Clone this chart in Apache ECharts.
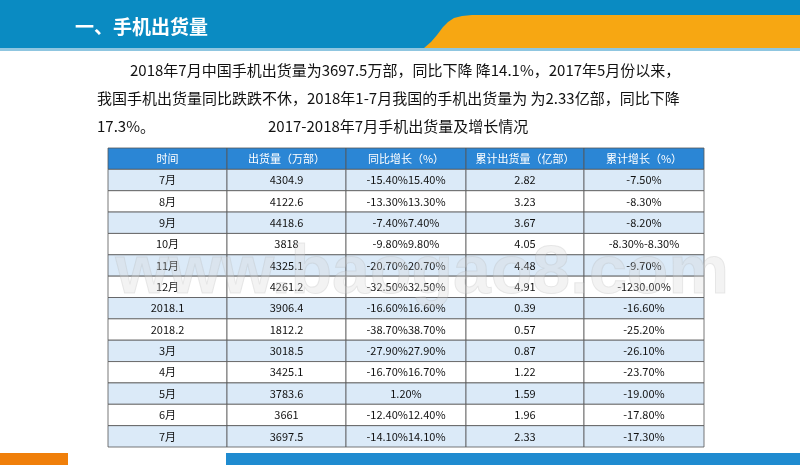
<!DOCTYPE html>
<html><head><meta charset="utf-8">
<script src="https://cdn.jsdelivr.net/npm/echarts@6/dist/echarts.min.js"></script>
<style>html,body{margin:0;padding:0;background:#fff}#c{width:800px;height:474px}</style>
</head><body><div id="c"></div>
<script>
const headers = ['时间','出货量（万部）','同比增长（%）','累计出货量（亿部）','累计增长（%）'];
const periods = ['7月','8月','9月','10月','11月','12月','2018.1','2018.2','3月','4月','5月','6月','7月'];
const shipments = ['4304.9','4122.6','4418.6','3818','4325.1','4261.2','3906.4','1812.2','3018.5','3425.1','3783.6','3661','3697.5'];
const yoyGrowth = ['-15.40%15.40%','-13.30%13.30%','-7.40%7.40%','-9.80%9.80%','-20.70%20.70%','-32.50%32.50%','-16.60%16.60%','-38.70%38.70%','-27.90%27.90%','-16.70%16.70%','1.20%','-12.40%12.40%','-14.10%14.10%'];
const cumShipments = ['2.82','3.23','3.67','4.05','4.48','4.91','0.39','0.57','0.87','1.22','1.59','1.96','2.33'];
const cumGrowth = ['-7.50%','-8.30%','-8.20%','-8.30%-8.30%','-9.70%','-1230.00%','-16.60%','-25.20%','-26.10%','-23.70%','-19.00%','-17.80%','-17.30%'];

const colEdges = [0,119,238,358,476,596]; // layout
const cols = [periods, shipments, yoyGrowth, cumShipments, cumGrowth];
const nRows = periods.length + 1;
const cells = [];
for (let r = 0; r < nRows; r++) for (let c = 0; c < 5; c++) {
  cells.push([colEdges[c], colEdges[c+1], r, r === 0 ? headers[c] : cols[c][r-1]]);
}
const wave = [[800,15],[472,15],[462,16],[454,18],[448,22],[443,27],[437,35],[431,42],[424,48],[800,48]];
const chart = echarts.init(document.getElementById('c'));
chart.setOption({
  animation:false,
  grid:{left:108,top:148,width:596,height:299},
  xAxis:{type:'value',min:0,max:596,show:false},
  yAxis:{type:'value',min:0,max:nRows,inverse:true,show:false},
  graphic:[
    {type:'rect',shape:{x:0,y:0,width:800,height:48},style:{fill:'#0a8bc2'},z:-1},
    {type:'polygon',shape:{points:wave},style:{fill:'#f7a712'},z:0},
    {type:'rect',shape:{x:0,y:48,width:800,height:3},style:{fill:'#8fc6e0'},z:-1},
    {type:'text',left:75,top:17,style:{text:'一、手机出货量',fill:'#fff',font:'bold 19px "Noto Sans CJK SC"'}},
    {type:'text',left:130,top:63,style:{text:'2018年7月中国手机出货量为3697.5万部，同比下降 降14.1%，2017年5月份以来，',fill:'#111',font:'15px "Noto Sans CJK SC"'}},
    {type:'text',left:97,top:91,style:{text:'我国手机出货量同比跌跌不休，2018年1-7月我国的手机出货量为 为2.33亿部，同比下降',fill:'#111',font:'15px "Noto Sans CJK SC"'}},
    {type:'text',left:97,top:119,style:{text:'17.3%。',fill:'#111',font:'15px "Noto Sans CJK SC"'}},
    {type:'text',left:268,top:119,style:{text:'2017-2018年7月手机出货量及增长情况',fill:'#111',font:'15px "Noto Sans CJK SC"'}},
    {type:'rect',shape:{x:0,y:453,width:68,height:12},style:{fill:'#f07f0a'}},
    {type:'rect',shape:{x:226,y:453,width:574,height:12},style:{fill:'#1f8bd0'}},
    {type:'text',left:115,top:240,style:{text:'www.baogao8.com',fill:'rgba(215,215,215,0.3)',font:'bold 68px Arial',stroke:'rgba(170,170,170,0.25)',lineWidth:1},z:100}
  ],
  series:[{
    type:'custom',
    data:cells,
    renderItem:function(params, api){
      const x0 = api.coord([api.value(0), api.value(2)]);
      const x1 = api.coord([api.value(1), api.value(2)+1]);
      const r = api.value(2);
      const fill = r === 0 ? '#2b86d5' : (r % 2 === 1 ? '#dbeaf8' : '#ffffff');
      return {type:'group',children:[
        {type:'rect',shape:{x:x0[0],y:x0[1],width:x1[0]-x0[0],height:x1[1]-x0[1]},
         style:{fill:fill,stroke:'#555',lineWidth:0.8}},
        {type:'text',x:(x0[0]+x1[0])/2,y:(x0[1]+x1[1])/2,
         style:{text:api.value(3),fill:r===0?'#fff':'#111',align:'center',verticalAlign:'middle',
                font:'11px "Noto Sans CJK SC"'}}
      ]};
    }
  }]
});
</script></body></html>
